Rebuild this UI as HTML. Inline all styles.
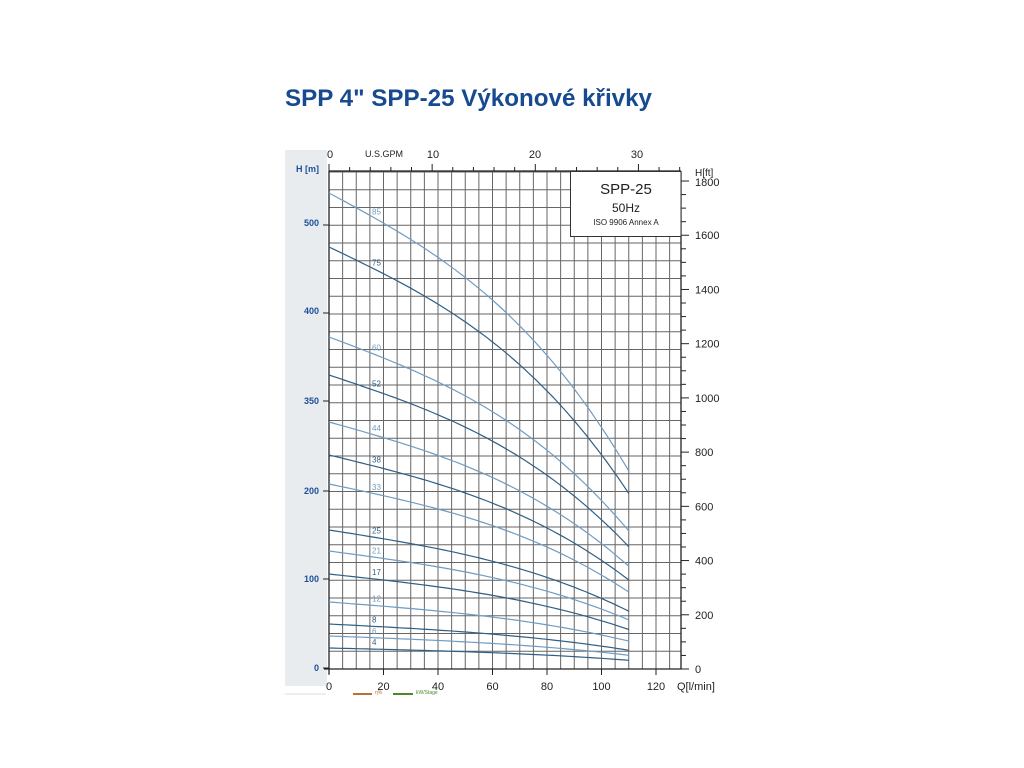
<!DOCTYPE html>
<html><head><meta charset="utf-8"><style>
body{margin:0;background:#fff;width:1024px;height:768px;overflow:hidden}
svg{display:block}
</style></head><body>
<svg id="s" width="1024" height="768" xmlns="http://www.w3.org/2000/svg" font-family="Liberation Sans, sans-serif">
<text x="285" y="106" font-size="24" font-weight="bold" fill="#174a8f" textLength="367" lengthAdjust="spacingAndGlyphs">SPP 4" SPP-25 Výkonové křivky</text>
<rect x="285" y="150" width="42" height="536" fill="#e9ecef"/>
<line x1="285" y1="694" x2="326" y2="694" stroke="#ddd" stroke-width="1"/>
<g id="grid"></g>
<g id="curves"></g>
<rect x="570.5" y="171.5" width="110.5" height="65" fill="#fff" stroke="#333" stroke-width="1"/>
<text x="626" y="194" font-size="15" text-anchor="middle" fill="#222">SPP-25</text>
<text x="626" y="212" font-size="12" text-anchor="middle" fill="#222">50Hz</text>
<text x="626" y="225" font-size="8" text-anchor="middle" fill="#222">ISO 9906 Annex A</text>
<g font-size="9" font-weight="bold" fill="#1b4f9b" text-anchor="end">
<text x="319" y="172">H [m]</text>
<text x="319" y="226">500</text>
<text x="319" y="314">400</text>
<text x="319" y="404">350</text>
<text x="319" y="494">200</text>
<text x="319" y="582">100</text>
<text x="319" y="671">0</text>
</g>
<g font-size="11" fill="#222" text-anchor="middle">
<text x="330" y="158">0</text>
<text x="433" y="158">10</text>
<text x="535" y="158">20</text>
<text x="637" y="158">30</text>
<text x="329" y="690">0</text>
<text x="383.5" y="690">20</text>
<text x="438" y="690">40</text>
<text x="492.5" y="690">60</text>
<text x="547" y="690">80</text>
<text x="601.5" y="690">100</text>
<text x="656" y="690">120</text>
</g>
<text x="384" y="157" font-size="9" fill="#222" text-anchor="middle">U.S.GPM</text>
<text x="677" y="690" font-size="11" fill="#222">Q[l/min]</text>
<text x="695" y="176" font-size="10" fill="#222">H[ft]</text>
<g id="ft" font-size="11" fill="#222"></g>
<line x1="353" y1="694" x2="372" y2="694" stroke="#b87333" stroke-width="2"/>
<text x="375" y="694" font-size="5" fill="#b87333">η%</text>
<line x1="393" y1="694" x2="413" y2="694" stroke="#4a8a2a" stroke-width="2"/>
<text x="416" y="694" font-size="5" fill="#4a8a2a">kW/Stage</text>
</svg>
<script>
var NS="http://www.w3.org/2000/svg";
function el(p,t,a,txt){var e=document.createElementNS(NS,t);for(var k in a)e.setAttribute(k,a[k]);if(txt!==undefined)e.textContent=txt;p.appendChild(e);return e;}
var g=document.getElementById('grid');
var X=function(q){return 329+q*2.725};
for(var q=5;q<=125;q+=5){el(g,'line',{x1:X(q),y1:171,x2:X(q),y2:669,stroke:'#666','stroke-width':1});}
for(var i=1;i<=28;i++){var y=669-i*17.75;if(y<172)break;el(g,'line',{x1:329,y1:y,x2:681,y2:y,stroke:'#666','stroke-width':1});}
el(g,'line',{x1:329,y1:171,x2:329,y2:674,stroke:'#222','stroke-width':1.3});
el(g,'line',{x1:324,y1:669,x2:681,y2:669,stroke:'#222','stroke-width':1.3});
el(g,'line',{x1:329,y1:171,x2:681,y2:171,stroke:'#222','stroke-width':1.3});
el(g,'line',{x1:681,y1:171,x2:681,y2:669,stroke:'#222','stroke-width':1.3});
[225,313,401,491,579,668].forEach(function(y){el(g,'line',{x1:323,y1:y,x2:329,y2:y,stroke:'#222'});});
for(var q=0;q<=120;q+=20)el(g,'line',{x1:X(q),y1:669,x2:X(q),y2:675,stroke:'#222'});
for(var gp=0;gp<=34;gp+=2){var x=329+gp*3.785*2.725;el(g,'line',{x1:x,y1:171,x2:x,y2:gp%10==0?164:167,stroke:'#222'});}
var ft=document.getElementById('ft');
for(var f=0;f<=1800;f+=50){var y=669-f*0.2711;var maj=f%200==0;el(g,'line',{x1:681,y1:y,x2:maj?689:686,y2:y,stroke:'#222'});if(maj&&f<1800)el(ft,'text',{x:695,y:y+4},String(f));}
el(ft,'text',{x:695,y:186},'1800');
var c=document.getElementById('curves');
var data=[[85,476],[75,422],[60,332],[52,294],[44,247],[38,214],[33,185],[25,139],[21,118],[17,95],[12,67],[8,45],[6,33],[4,21]];
data.forEach(function(d,i){var col=i%2==0?'#6f9cc2':'#2f5f85';var pts=[];
for(var q=0;q<=110;q+=2){var f=1-0.00309*q-1.834e-7*q*q*q;pts.push(X(q).toFixed(1)+','+(669-d[1]*f).toFixed(1));}
el(c,'polyline',{points:pts.join(' '),fill:'none',stroke:col,'stroke-width':1.2});
var q=17,f=1-0.00309*q-1.834e-7*q*q*q;
el(c,'text',{x:372,y:669-d[1]*f-4,'font-size':8,fill:col},String(d[0]));});
</script>
</body></html>
